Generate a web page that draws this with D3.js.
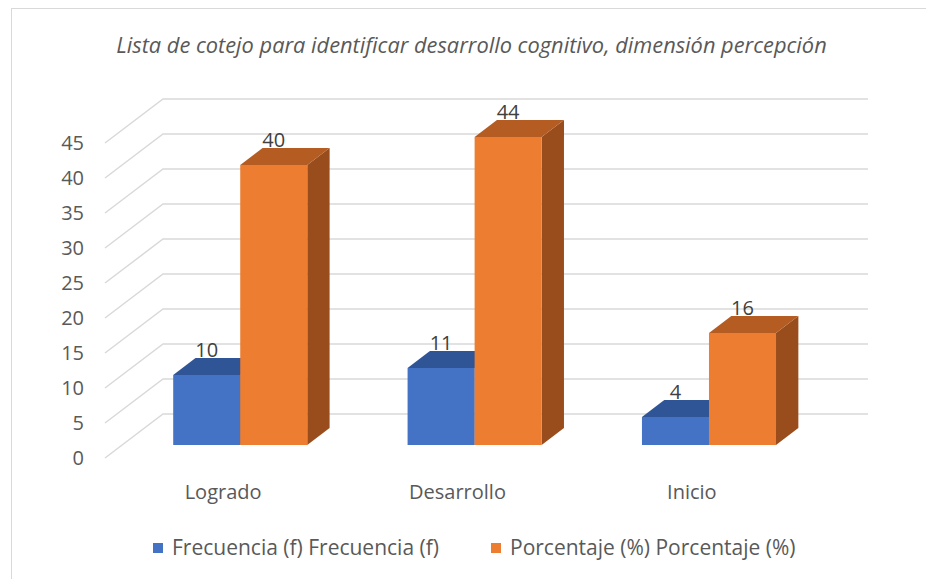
<!DOCTYPE html>
<html>
<head>
<meta charset="utf-8">
<script src="https://cdn.jsdelivr.net/npm/d3@7"></script>
<style>
  html, body { margin: 0; padding: 0; background: #fff; }
  #chart { width: 926px; height: 579px; }
  text { font-family: "Open Sans", sans-serif; }
</style>
</head>
<body>
<div id="chart"></div>
<script>
const title = 'Lista de cotejo para identificar desarrollo cognitivo, dimensión percepción'
const categories = ['Logrado', 'Desarrollo', 'Inicio']
const seriesNames = ['Frecuencia (f) Frecuencia (f)', 'Porcentaje (%) Porcentaje (%)']
const frecuencia = [10, 11, 4]
const porcentaje = [40, 44, 16]
const yTicks = [0, 5, 10, 15, 20, 25, 30, 35, 40, 45]

const width = 926
const height = 579

// face colours: front, top, side
const palette = [
  { front: '#4472c4', top: '#2f5597', side: '#2b4f8e' },
  { front: '#ed7d31', top: '#b45c22', side: '#994d1c' },
]

// depth of the floor as a screen offset
const depthX = 58
const depthY = -44
const barDepth0 = 0.295
const barDepth1 = 0.68

const svg = d3.select('#chart')
  .append('svg')
  .attr('width', width)
  .attr('height', height)

svg.append('rect')
  .attr('x', 11.5).attr('y', 8.5)
  .attr('width', 940).attr('height', 600)
  .attr('fill', 'none')
  .attr('stroke', '#d9d9d9')
  .attr('stroke-width', 1)

const x = d3.scaleBand()
  .domain(categories)
  .range([105, 810])
  .paddingInner(0.428)
  .paddingOuter(0.218)

const xs = d3.scaleBand()
  .domain(d3.range(seriesNames.length))
  .range([0, x.bandwidth()])

const y = d3.scaleLinear()
  .domain([0, 45])
  .range([458, 143])

// project a front-plane point into depth
const P = (px, v, d) => [px + d * depthX, y(v) + d * depthY]

// gridlines: left wall diagonal + back wall horizontal
const grid = svg.append('g')
yTicks.forEach(t => {
  const a = P(105, t, 0)
  const b = P(105, t, 1)
  const c = P(810, t, 1)
  grid.append('path')
    .attr('d', d3.line()([a, b, c]))
    .attr('fill', 'none')
    .attr('stroke', '#d9d9d9')
    .attr('stroke-width', 1.5)
})

// y tick labels
svg.append('g')
  .selectAll('text')
  .data(yTicks)
  .join('text')
  .attr('x', 84)
  .attr('y', d => y(d))
  .attr('dy', '0.35em')
  .attr('text-anchor', 'end')
  .attr('font-size', 20)
  .attr('fill', '#595959')
  .text(d => d)

// bars
const values = [frecuencia, porcentaje]
const bars = svg.append('g')
categories.forEach((cat, ci) => {
  values.forEach((vals, si) => {
    const v = vals[ci]
    const x0 = x(cat) + xs(si)
    const x1 = x0 + xs.bandwidth()
    const col = palette[si]
    const g = bars.append('g')
    const poly = pts => d3.line()(pts) + 'Z'
    // side face
    g.append('path')
      .attr('d', poly([P(x1, 0, barDepth0), P(x1, 0, barDepth1), P(x1, v, barDepth1), P(x1, v, barDepth0)]))
      .attr('fill', col.side)
    // top face
    g.append('path')
      .attr('d', poly([P(x0, v, barDepth0), P(x1, v, barDepth0), P(x1, v, barDepth1), P(x0, v, barDepth1)]))
      .attr('fill', col.top)
    // front face
    g.append('path')
      .attr('d', poly([P(x0, 0, barDepth0), P(x1, 0, barDepth0), P(x1, v, barDepth0), P(x0, v, barDepth0)]))
      .attr('fill', col.front)
    // value label
    const lp = P((x0 + x1) / 2, v, barDepth0)
    g.append('text')
      .attr('x', lp[0])
      .attr('y', lp[1] + (barDepth1 - barDepth0) * depthY - 1)
      .attr('text-anchor', 'middle')
      .attr('font-size', 20)
      .attr('fill', '#404040')
      .text(v)
  })
})

// category labels
svg.append('g')
  .selectAll('text')
  .data(categories)
  .join('text')
  .attr('x', d => x(d) + x.bandwidth() / 2)
  .attr('y', 499)
  .attr('text-anchor', 'middle')
  .attr('font-size', 20)
  .attr('fill', '#595959')
  .text(d => d)

// title
svg.append('text')
  .attr('x', 471.5)
  .attr('y', 53)
  .attr('text-anchor', 'middle')
  .attr('font-size', 21.8)
  .attr('font-style', 'italic')
  .attr('fill', '#595959')
  .text(title)

// legend
const legendX = [153, 491]
const legend = svg.append('g')
seriesNames.forEach((name, i) => {
  legend.append('rect')
    .attr('x', legendX[i]).attr('y', 543)
    .attr('width', 10).attr('height', 10)
    .attr('fill', palette[i].front)
  legend.append('text')
    .attr('x', legendX[i] + 19)
    .attr('y', 548)
    .attr('dy', '0.35em')
    .attr('font-size', 21)
    .attr('fill', '#595959')
    .text(name)
})
</script>
</body>
</html>
